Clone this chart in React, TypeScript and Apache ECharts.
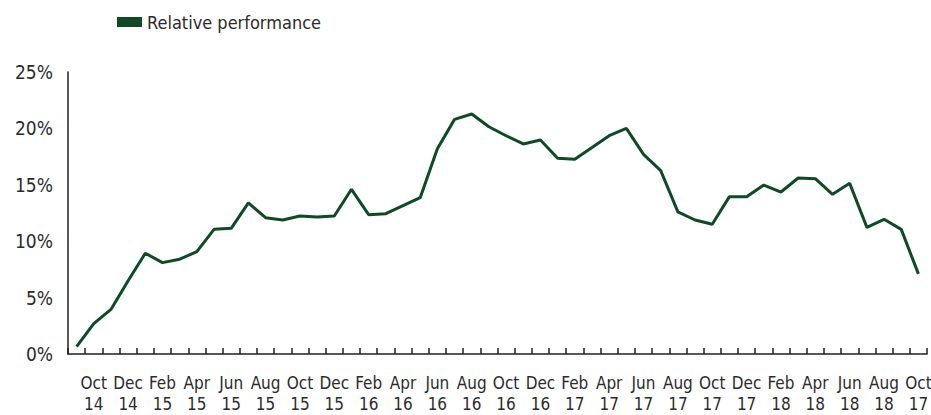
import React, { useEffect, useRef } from "react";
import * as echarts from "echarts";

const categories: string[] = [
  "Sep\n14", "Oct\n14", "Nov\n14", "Dec\n14",
  "Jan\n15", "Feb\n15", "Mar\n15", "Apr\n15", "May\n15", "Jun\n15",
  "Jul\n15", "Aug\n15", "Sep\n15", "Oct\n15", "Nov\n15", "Dec\n15",
  "Jan\n16", "Feb\n16", "Mar\n16", "Apr\n16", "May\n16", "Jun\n16",
  "Jul\n16", "Aug\n16", "Sep\n16", "Oct\n16", "Nov\n16", "Dec\n16",
  "Jan\n17", "Feb\n17", "Mar\n17", "Apr\n17", "May\n17", "Jun\n17",
  "Jul\n17", "Aug\n17", "Sep\n17", "Oct\n17", "Nov\n17", "Dec\n17",
  "Jan\n18", "Feb\n18", "Mar\n18", "Apr\n18", "May\n18", "Jun\n18",
  "Jul\n18", "Aug\n18", "Sep\n18", "Oct\n17",
];

const relativePerformance: number[] = [
  0.65, 2.7, 3.95, 6.5, 8.93, 8.1, 8.4, 9.07, 11.05, 11.14,
  13.4, 12.08, 11.88, 12.23, 12.15, 12.23, 14.6, 12.35, 12.44, 13.15,
  13.86, 18.2, 20.8, 21.28, 20.15, 19.35, 18.62, 18.97, 17.35, 17.26,
  18.3, 19.35, 20.0, 17.7, 16.25, 12.6, 11.88, 11.5, 13.95, 13.95,
  14.98, 14.36, 15.6, 15.54, 14.16, 15.13, 11.23, 11.94, 11.05, 7.1,
];

const seriesName = "Relative performance";
const yMin = 0;
const yMax = 25;
const yInterval = 5;

const FONT = "'DejaVu Sans Condensed', 'Liberation Sans Narrow', sans-serif";
const LINE_COLOR = "#0f4a27";
const TEXT_COLOR = "#2b2b2b";
const AXIS_COLOR = "#231f20";

export default function App() {
  const ref = useRef<HTMLDivElement>(null);

  useEffect(() => {
    if (!ref.current) return;
    const chart = echarts.init(ref.current, undefined, { renderer: "svg" });
    chart.setOption({
      animation: false,
      backgroundColor: "#ffffff",
      legend: {
        left: 112,
        top: 8,
        icon: "rect",
        itemWidth: 25,
        itemHeight: 10,
        itemGap: 10,
        textStyle: { fontFamily: FONT, fontSize: 18, color: TEXT_COLOR },
        data: [seriesName],
      },
      grid: {
        left: 68,
        right: 4,
        top: 72,
        bottom: 61,
        containLabel: false,
        outerBoundsMode: "none",
      },
      xAxis: {
        type: "category",
        data: categories,
        boundaryGap: true,
        axisLine: { lineStyle: { color: AXIS_COLOR, width: 1.5 } },
        axisTick: {
          show: true,
          inside: true,
          length: 6,
          interval: 0,
          lineStyle: { color: AXIS_COLOR, width: 1.5 },
        },
        axisLabel: {
          interval: (index: number) => index % 2 === 1,
          fontFamily: FONT,
          fontSize: 17,
          color: TEXT_COLOR,
          lineHeight: 21,
          margin: 18,
        },
        splitLine: { show: false },
      },
      yAxis: {
        type: "value",
        min: yMin,
        max: yMax,
        interval: yInterval,
        axisLine: { show: true, lineStyle: { color: AXIS_COLOR, width: 1.5 } },
        axisTick: { show: false },
        splitLine: { show: false },
        axisLabel: {
          formatter: "{value}%",
          fontFamily: FONT,
          fontSize: 19,
          color: TEXT_COLOR,
          margin: 15,
        },
      },
      series: [
        {
          name: seriesName,
          type: "line",
          data: relativePerformance,
          showSymbol: false,
          symbol: "none",
          itemStyle: { color: LINE_COLOR },
          lineStyle: { color: LINE_COLOR, width: 3 },
        },
      ],
    });
    return () => chart.dispose();
  }, []);

  return (
    <div
      ref={ref}
      style={{ position: "absolute", left: 0, top: 0, width: 931, height: 415 }}
    />
  );
}
